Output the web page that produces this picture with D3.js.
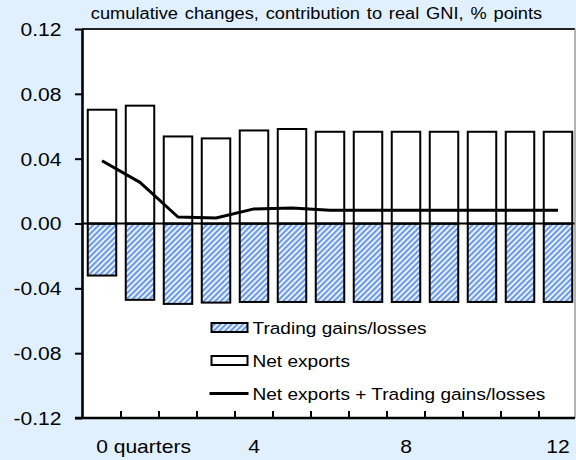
<!DOCTYPE html>
<html>
<head>
<meta charset="utf-8">
<script src="https://cdn.jsdelivr.net/npm/d3@7"></script>
<style>
  html, body { margin: 0; padding: 0; background: #E1F0FF; }
  svg { display: block; font-family: "Liberation Sans", Arial, sans-serif; }
</style>
</head>
<body>
<svg id="chart" width="576" height="460"></svg>
<script>
// Quarters after the shock and their axis labels
const quarters = [0, 1, 2, 3, 4, 5, 6, 7, 8, 9, 10, 11, 12];
const quarterLabels = ["0 quarters", "", "", "", "4", "", "", "", "8", "", "", "", "12"];

// Cumulative contributions to real GNI, % points
const netExports   = [0.0702, 0.0727, 0.0537, 0.0525, 0.0574, 0.0583, 0.0566, 0.0566, 0.0566, 0.0566, 0.0566, 0.0566, 0.0566];
const tradingGains = [-0.0321, -0.0471, -0.0496, -0.0488, -0.0484, -0.0484, -0.0484, -0.0484, -0.0484, -0.0484, -0.0484, -0.0484, -0.0484];
const combined     = [0.0387, 0.0254, 0.0040, 0.0034, 0.0090, 0.0096, 0.0081, 0.0081, 0.0081, 0.0081, 0.0081, 0.0081, 0.0081];

const yTicks = [0.12, 0.08, 0.04, 0, -0.04, -0.08, -0.12];
const seriesNames = ["Trading gains/losses", "Net exports", "Net exports + Trading gains/losses"];
const titleText = "cumulative changes, contribution to real GNI, % points";

const W = 576, H = 460;
const plot = { left: 82, right: 575, top: 29, bottom: 418 };
const SX = 1.17;           // horizontal stretch applied to all text
const hatchBlue = "#6A9AE8";

const svg = d3.select("#chart");

// Background and plot area
svg.append("rect").attr("width", W).attr("height", H).attr("fill", "#E1F0FF");
svg.append("rect")
  .attr("x", plot.left).attr("y", plot.top)
  .attr("width", plot.right - plot.left).attr("height", plot.bottom - plot.top)
  .attr("fill", "#fff");

// Diagonal hatch for trading gains/losses
const defs = svg.append("defs");
const pat = defs.append("pattern")
  .attr("id", "hatch").attr("patternUnits", "userSpaceOnUse")
  .attr("width", 4).attr("height", 4)
  .attr("patternTransform", "rotate(45)");
pat.append("rect").attr("width", 4).attr("height", 4).attr("fill", "#fff");
pat.append("rect").attr("width", 2.3).attr("height", 4).attr("fill", hatchBlue);

// Scales
const x = d3.scaleBand()
  .domain(quarters)
  .range([plot.left + 1, plot.left + 1 + 38 * quarters.length])
  .paddingInner(0.25)
  .paddingOuter(0.125);
const y = d3.scaleLinear().domain([-0.12, 0.12]).range([plot.bottom, plot.top]);
const cx = q => x(q) + x.bandwidth() / 2;

// Trading gains/losses bars (negative, hatched)
svg.append("g").selectAll("rect").data(quarters).join("rect")
  .attr("x", q => x(q))
  .attr("y", q => y(Math.max(0, tradingGains[q])))
  .attr("width", x.bandwidth())
  .attr("height", q => Math.abs(y(tradingGains[q]) - y(0)))
  .attr("fill", "url(#hatch)")
  .attr("stroke", "#000").attr("stroke-width", 2);

// Net exports bars (positive, white)
svg.append("g").selectAll("rect").data(quarters).join("rect")
  .attr("x", q => x(q))
  .attr("y", q => y(Math.max(0, netExports[q])))
  .attr("width", x.bandwidth())
  .attr("height", q => Math.abs(y(netExports[q]) - y(0)))
  .attr("fill", "#fff")
  .attr("stroke", "#000").attr("stroke-width", 2);

// Zero line
svg.append("line")
  .attr("x1", plot.left).attr("x2", plot.right)
  .attr("y1", y(0)).attr("y2", y(0))
  .attr("stroke", "#000").attr("stroke-width", 2);

// Combined line
svg.append("path")
  .datum(quarters)
  .attr("d", d3.line().x(q => cx(q)).y(q => y(combined[q])))
  .attr("fill", "none").attr("stroke", "#000")
  .attr("stroke-width", 3).attr("stroke-linejoin", "round");

// Frame: top and right borders
svg.append("line")
  .attr("x1", plot.left).attr("x2", plot.right)
  .attr("y1", plot.top).attr("y2", plot.top)
  .attr("stroke", "#222").attr("stroke-width", 2);
svg.append("line")
  .attr("x1", plot.right).attr("x2", plot.right)
  .attr("y1", plot.top).attr("y2", plot.bottom)
  .attr("stroke", "#888").attr("stroke-width", 1.2);

// Y axis
const fmt = d => (d < 0 ? "-" : "") + Math.abs(d).toFixed(2);
const yAxis = svg.append("g")
  .attr("transform", `translate(${plot.left},0)`)
  .call(d3.axisLeft(y).tickValues(yTicks).tickFormat(fmt).tickSize(7).tickSizeOuter(0));
yAxis.select(".domain").attr("stroke", "#000").attr("stroke-width", 2.6);
yAxis.selectAll(".tick line").attr("stroke", "#000").attr("stroke-width", 2);
yAxis.selectAll(".tick text")
  .attr("x", -20.5 / SX).attr("dy", null).attr("y", 6.4)
  .attr("transform", `scale(${SX},1)`)
  .attr("font-size", 18).attr("fill", "#000")
  .attr("font-family", "'Liberation Sans', Arial, sans-serif");

// X axis: baseline, ticks between quarters pointing inward
svg.append("line")
  .attr("x1", plot.left - 7).attr("x2", plot.right)
  .attr("y1", plot.bottom).attr("y2", plot.bottom)
  .attr("stroke", "#000").attr("stroke-width", 2.6);
svg.append("g").selectAll("line").data(quarters.slice(1)).join("line")
  .attr("x1", q => x(q) - x.step() * x.paddingInner() / 2)
  .attr("x2", q => x(q) - x.step() * x.paddingInner() / 2)
  .attr("y1", plot.bottom).attr("y2", plot.bottom - 7)
  .attr("stroke", "#000").attr("stroke-width", 2);

// X labels
const zeroHalf = 18 * 0.556 * SX / 2;
svg.append("g").selectAll("text").data(quarters.filter(q => quarterLabels[q] !== "")).join("text")
  .attr("transform", q => `translate(${q === 0 ? cx(q) - zeroHalf : cx(q)},453) scale(${SX},1)`)
  .attr("text-anchor", q => q === 0 ? "start" : "middle")
  .attr("font-size", 18).attr("fill", "#000")
  .text(q => quarterLabels[q]);

// Title
svg.append("text")
  .attr("transform", `translate(316.5,19) scale(${SX},1)`)
  .attr("text-anchor", "middle")
  .attr("font-size", 15.6).attr("word-spacing", 1.5).attr("fill", "#000")
  .text(titleText);

// Legend
const leg = { x: 211.5, w: 36, textX: 252.5, rows: [327.5, 360.5, 393.5] };
const lg = svg.append("g");
lg.append("rect")
  .attr("x", leg.x).attr("y", leg.rows[0] - 4.5).attr("width", leg.w).attr("height", 9)
  .attr("fill", "url(#hatch)").attr("stroke", "#000").attr("stroke-width", 2);
lg.append("rect")
  .attr("x", leg.x).attr("y", leg.rows[1] - 4.5).attr("width", leg.w).attr("height", 9)
  .attr("fill", "#fff").attr("stroke", "#000").attr("stroke-width", 2);
lg.append("line")
  .attr("x1", leg.x - 2).attr("x2", leg.x + leg.w + 1)
  .attr("y1", leg.rows[2]).attr("y2", leg.rows[2])
  .attr("stroke", "#000").attr("stroke-width", 3);
lg.selectAll("text").data(seriesNames).join("text")
  .attr("transform", (d, i) => `translate(${leg.textX},${leg.rows[i] + 6}) scale(${SX},1)`)
  .attr("font-size", 16.3).attr("fill", "#000")
  .text(d => d);
</script>
</body>
</html>
